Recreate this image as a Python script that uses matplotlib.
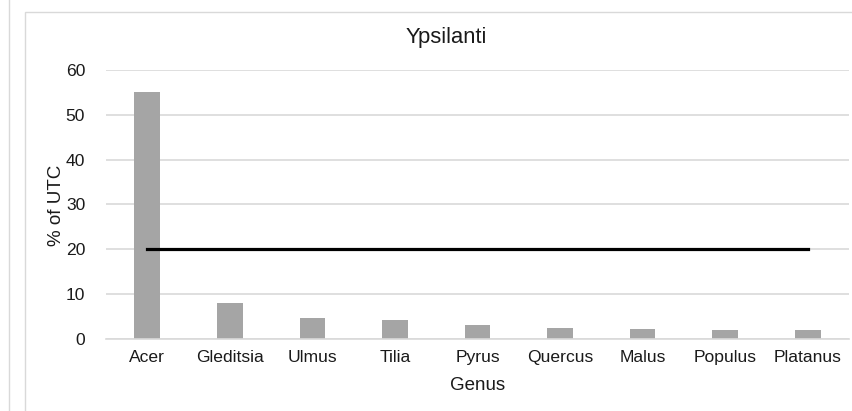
import matplotlib.pyplot as plt
from matplotlib.patches import Rectangle
from matplotlib.lines import Line2D

genus = ["Acer", "Gleditsia", "Ulmus", "Tilia", "Pyrus", "Quercus", "Malus", "Populus", "Platanus"]
pct_utc = [55.2, 8.1, 4.6, 4.3, 3.1, 2.4, 2.2, 1.95, 1.95]
threshold = [20] * len(genus)
yticks = [0, 10, 20, 30, 40, 50, 60]

W, H = 853, 411
plt.rcParams["font.family"] = ["Liberation Sans", "DejaVu Sans"]
txt = "#1a1a1a"

fig = plt.figure(figsize=(W / 100, H / 100), dpi=100)
ax = fig.add_axes([106 / W, 72 / H, (849 - 106) / W, 269 / H])

x = list(range(len(genus)))
ax.bar(x, pct_utc, width=0.31, color="#a5a5a5", zorder=2)
ax.plot(x, threshold, color="black", linewidth=2.3, zorder=3)

ax.set_xlim(-0.5, len(genus) - 0.5)
ax.set_ylim(0, 60)
ax.set_yticks(yticks)
ax.set_xticks(x)
ax.set_xticklabels(genus)
ax.tick_params(axis="both", length=0, labelsize=12.6, colors=txt)
ax.tick_params(axis="y", pad=15)
ax.tick_params(axis="x", pad=8)
ax.grid(axis="y", color="#d9d9d9", linewidth=1.2, zorder=0)
for s in ["top", "right", "left"]:
    ax.spines[s].set_visible(False)
ax.spines["bottom"].set_color("#d9d9d9")
ax.spines["bottom"].set_linewidth(1.2)

fig.text(446 / W, 1 - 37 / H, "Ypsilanti", ha="center", va="center", fontsize=15.8, color=txt)
fig.text(57 / W, 1 - 205 / H, "% of UTC", ha="center", va="center", rotation=90, fontsize=13.5, color=txt)
fig.text(477.5 / W, 1 - 385 / H, "Genus", ha="center", va="center", fontsize=13.5, color=txt)

# chart frame and neighbouring chart edge
fig.patches.append(Rectangle((25 / W, -0.1), 1.0, 1 - 12 / H + 0.1, transform=fig.transFigure,
                             fill=False, edgecolor="#d9d9d9", linewidth=1.0))
fig.lines.append(Line2D([9 / W, 9 / W], [0, 1], transform=fig.transFigure, color="#d9d9d9", linewidth=1.0))

fig.savefig("out.png", dpi=100)
